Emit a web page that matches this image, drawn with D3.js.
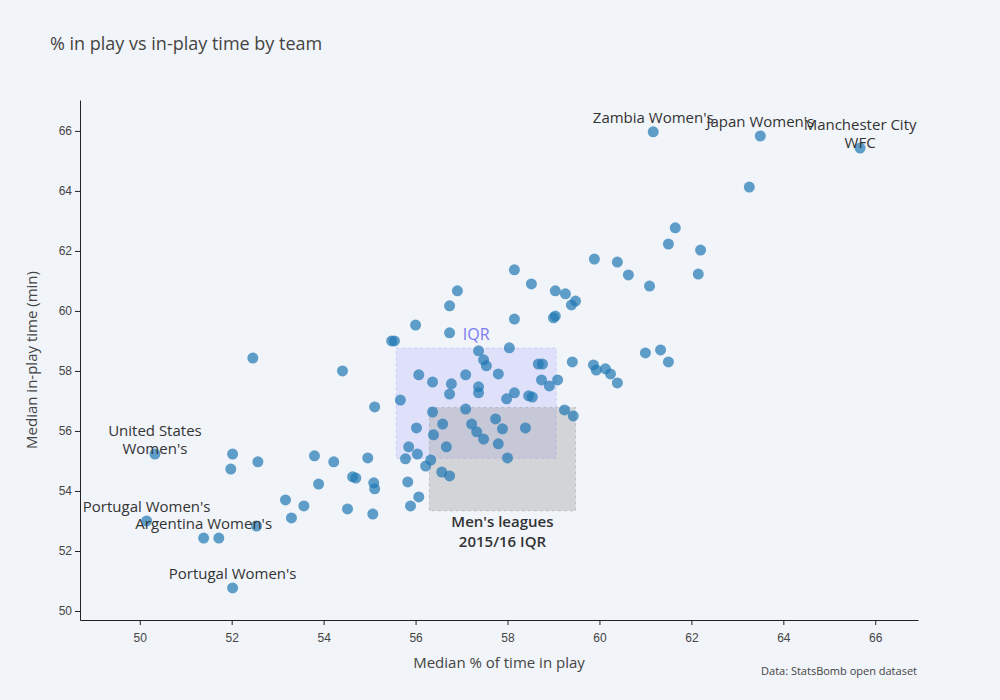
<!DOCTYPE html>
<html>
<head>
<meta charset="utf-8">
<script src="https://cdn.jsdelivr.net/npm/d3@7"></script>
<style>
  html, body { margin: 0; padding: 0; background: #f1f4f9; }
  svg { display: block; font-family: "Open Sans", "Noto Sans", sans-serif; }
  .axis path, .axis line { stroke: #222; }
  .axis text { fill: #444; font-size: 12px; }
</style>
</head>
<body>
<div id="chart"></div>
<script>
// team names ("" = no label), median % of time in play, median in-play minutes
const teamNames = [
  "Zambia Women's", "Japan Women's", "Manchester City\nWFC",
  "United States\nWomen's", "Portugal Women's", "Argentina Women's", "Portugal Women's",
];
const pctInPlay = [
  61.17, 63.50, 65.67, 50.33, 50.15, 51.39, 52.02,
  63.26, 61.65, 61.50, 62.20, 62.15, 59.89, 60.39, 60.63, 61.09,
  58.15, 58.52, 56.91, 56.74, 59.04, 59.26, 59.48, 59.39, 58.15, 59.04, 59.00,
  56.00, 56.74, 55.48, 55.54, 57.37, 58.04, 57.48, 57.54, 58.67, 58.76, 59.41,
  59.87, 59.93, 60.13, 60.24, 60.39, 61.00, 61.33, 61.50,
  56.07, 56.37, 56.78, 57.09, 57.80, 58.74, 58.91, 59.09,
  56.74, 57.37, 57.37, 58.15, 57.98, 58.46, 58.54, 55.67,
  56.37, 57.09, 59.24, 59.43, 57.74, 56.59, 57.22, 57.89, 58.39,
  56.02, 56.39, 57.33, 57.48, 56.67, 57.80, 55.85, 56.04, 55.78, 56.33, 56.22,
  58.00, 56.57, 56.74, 55.83, 56.07, 55.89,
  52.46, 54.41, 55.11, 52.02, 51.98, 52.57, 53.80, 54.22, 54.96, 54.63, 54.70,
  53.89, 55.09, 55.11, 53.17, 53.57, 53.30, 54.52, 55.07, 52.54, 51.72,
];
const inPlayMin = [
  65.97, 65.83, 65.43, 55.23, 53.00, 52.43, 50.77,
  64.13, 62.77, 62.23, 62.03, 61.23, 61.73, 61.63, 61.20, 60.83,
  61.37, 60.90, 60.67, 60.17, 60.67, 60.57, 60.33, 60.20, 59.73, 59.83, 59.77,
  59.53, 59.27, 59.00, 59.00, 58.67, 58.77, 58.37, 58.17, 58.23, 58.23, 58.30,
  58.20, 58.03, 58.07, 57.90, 57.60, 58.60, 58.70, 58.30,
  57.87, 57.63, 57.57, 57.87, 57.90, 57.70, 57.50, 57.70,
  57.23, 57.47, 57.27, 57.27, 57.07, 57.17, 57.13, 57.03,
  56.63, 56.73, 56.70, 56.50, 56.40, 56.23, 56.23, 56.07, 56.10,
  56.10, 55.87, 55.97, 55.73, 55.47, 55.57, 55.47, 55.23, 55.07, 55.03, 54.83,
  55.10, 54.63, 54.50, 54.30, 53.80, 53.50,
  58.43, 58.00, 56.80, 55.23, 54.73, 54.97, 55.17, 54.97, 55.10, 54.47, 54.43,
  54.23, 54.27, 54.07, 53.70, 53.50, 53.10, 53.40, 53.23, 52.83, 52.43,
];

// interquartile ranges: [x0, x1], [y0, y1]
const womenIqrX = [55.58, 59.06];
const womenIqrY = [55.09, 58.76];
const menIqrX = [56.30, 59.48];
const menIqrY = [53.34, 56.78];

const xTicks = [50, 52, 54, 56, 58, 60, 62, 64, 66];
const yTicks = [50, 52, 54, 56, 58, 60, 62, 64, 66];

const points = pctInPlay.map((x, i) => ({
  x,
  y: inPlayMin[i],
  name: teamNames[i] || "",
}));

const margin = { top: 100, right: 82, bottom: 80, left: 80 };
const width = 1000 - margin.left - margin.right;
const height = 700 - margin.top - margin.bottom;

const x = d3.scaleLinear().domain([48.7, 66.93]).range([0, width]);
const y = d3.scaleLinear().domain([49.7, 67.03]).range([height, 0]);

const svg = d3
  .select("#chart")
  .append("svg")
  .attr("width", 1000)
  .attr("height", 700);

svg
  .append("text")
  .attr("x", 50)
  .attr("y", 50)
  .attr("fill", "#444")
  .style("font-size", "18px")
  .text("% in play vs in-play time by team");

const g = svg
  .append("g")
  .attr("transform", `translate(${margin.left},${margin.top})`);

// boxes
g.append("rect")
  .attr("x", x(womenIqrX[0]))
  .attr("y", y(womenIqrY[1]))
  .attr("width", x(womenIqrX[1]) - x(womenIqrX[0]))
  .attr("height", y(womenIqrY[0]) - y(womenIqrY[1]))
  .attr("fill", "rgba(120,120,255,0.15)")
  .attr("stroke", "rgba(120,120,255,0.25)")
  .attr("stroke-dasharray", "3,3");

g.append("rect")
  .attr("x", x(menIqrX[0]))
  .attr("y", y(menIqrY[1]))
  .attr("width", x(menIqrX[1]) - x(menIqrX[0]))
  .attr("height", y(menIqrY[0]) - y(menIqrY[1]))
  .attr("fill", "rgba(150,150,150,0.33)")
  .attr("stroke", "rgba(150,150,150,0.45)")
  .attr("stroke-dasharray", "3,3");

g.append("text")
  .attr("x", x((womenIqrX[0] + womenIqrX[1]) / 2))
  .attr("y", y(womenIqrY[1]) - 8)
  .attr("text-anchor", "middle")
  .attr("fill", "#7b7bf0")
  .style("font-size", "16px")
  .text("IQR");

const menLabel = g
  .append("text")
  .attr("text-anchor", "middle")
  .attr("fill", "#333")
  .style("font-size", "15px")
  .style("font-weight", 600);
["Men's leagues", "2015/16 IQR"].forEach((line, i) => {
  menLabel
    .append("tspan")
    .attr("x", x((menIqrX[0] + menIqrX[1]) / 2))
    .attr("y", y(menIqrY[0]) + 16 + i * 20)
    .text(line);
});

// axes
g.append("g")
  .attr("class", "axis")
  .attr("transform", `translate(0,${height})`)
  .call(d3.axisBottom(x).tickValues(xTicks).tickSize(5).tickSizeOuter(0).tickPadding(8));

g.append("g")
  .attr("class", "axis")
  .call(d3.axisLeft(y).tickValues(yTicks).tickSize(5).tickSizeOuter(0).tickPadding(3));

g.selectAll(".axis .tick line").attr("stroke", "#666");

svg
  .append("text")
  .attr("x", margin.left + width / 2)
  .attr("y", 668)
  .attr("text-anchor", "middle")
  .attr("fill", "#444")
  .style("font-size", "15px")
  .text("Median % of time in play");

svg
  .append("text")
  .attr("transform", `translate(37,${margin.top + height / 2}) rotate(-90)`)
  .attr("text-anchor", "middle")
  .attr("fill", "#444")
  .style("font-size", "15px")
  .text("Median in-play time (min)");

svg
  .append("text")
  .attr("x", 917)
  .attr("y", 675)
  .attr("text-anchor", "end")
  .attr("fill", "#444")
  .style("font-size", "11px")
  .text("Data: StatsBomb open dataset");

// points
g.append("g")
  .selectAll("circle")
  .data(points)
  .join("circle")
  .attr("cx", (d) => x(d.x))
  .attr("cy", (d) => y(d.y))
  .attr("r", 5.5)
  .attr("fill", "#1f77b4")
  .attr("fill-opacity", 0.7);

// team labels, centred a little above their point
const labels = g
  .append("g")
  .selectAll("text")
  .data(points.filter((d) => d.name))
  .join("text")
  .attr("text-anchor", "middle")
  .attr("fill", "#333")
  .style("font-size", "15px");

labels.each(function (d) {
  const lines = d.name.split("\n");
  const top = y(d.y) - 14 - ((lines.length - 1) * 18) / 2;
  lines.forEach((line, i) => {
    d3.select(this)
      .append("tspan")
      .attr("x", x(d.x))
      .attr("y", top + i * 18)
      .attr("dy", "0.35em")
      .text(line);
  });
});
</script>
</body>
</html>
